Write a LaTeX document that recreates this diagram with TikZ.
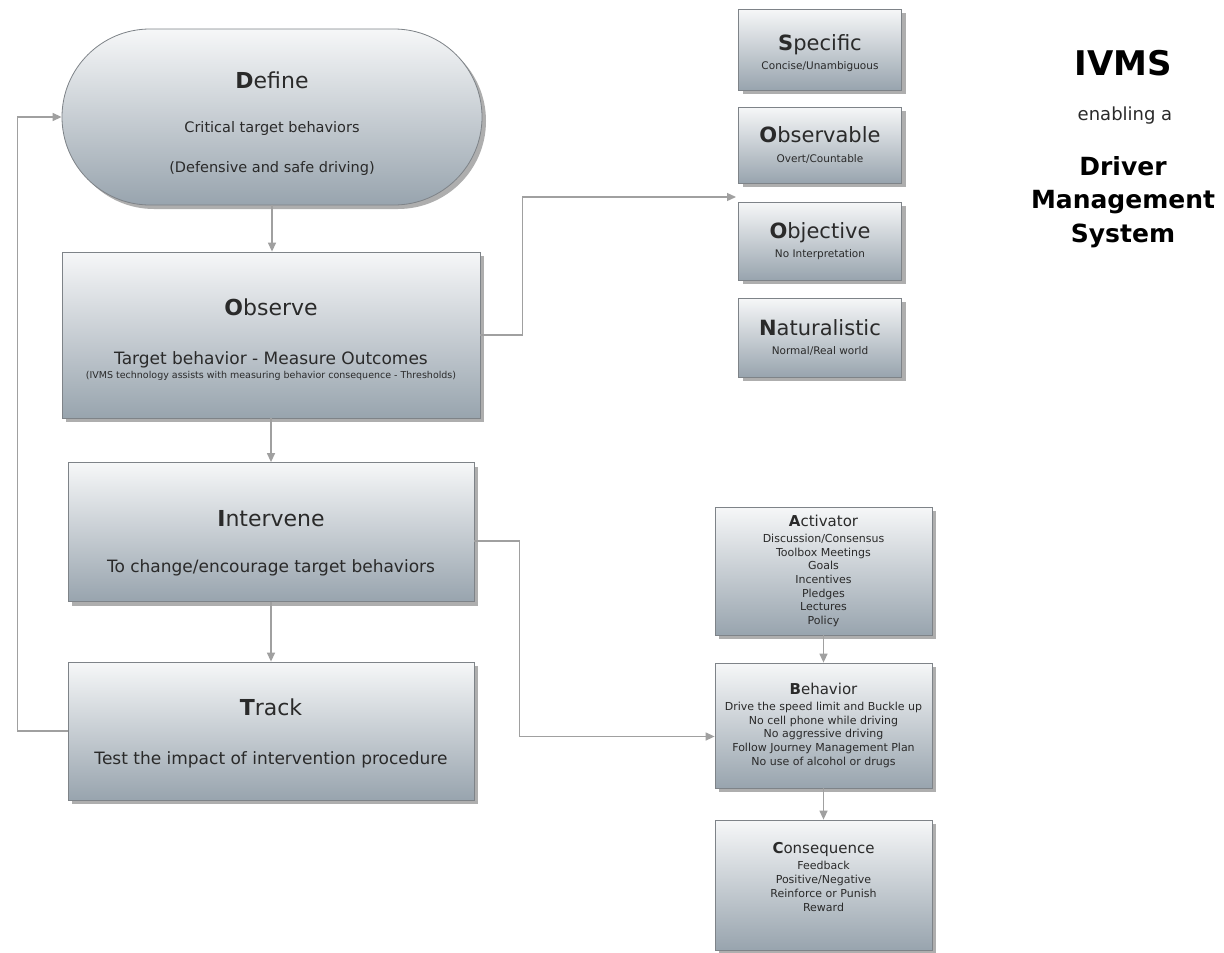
\documentclass[tikz,border=0pt]{standalone}
\usepackage{fontspec}
\setmainfont{DejaVu Sans}
\usetikzlibrary{shapes.misc,shadows,arrows.meta}
\definecolor{boxtop}{HTML}{F6F7F8}
\definecolor{boxbot}{HTML}{98A4AE}
\definecolor{edgegray}{HTML}{7E8388}
\definecolor{conn}{HTML}{A0A0A0}
\definecolor{txt}{HTML}{2A2A2A}
\newcommand{\fs}[2]{\fontsize{#1}{#2}\selectfont}
\tikzset{
  box/.style={draw=edgegray, line width=0.8pt, top color=boxtop, bottom color=boxbot,
    drop shadow={shadow xshift=4pt, shadow yshift=-4pt, opacity=0.45, fill=black!70},
    inner sep=0pt, align=center, text=txt},
  link/.style={draw=conn, line width=1.3pt, -{Triangle[length=9pt,width=8pt]}},
  headtxt/.style={align=center, text=black, inner sep=0pt},
}
\begin{document}
\begin{tikzpicture}[x=1pt,y=-1pt]
\useasboundingbox[fill=white] (0,0) rectangle (1224,953);

% main flow
\node[box, rounded rectangle, minimum width=420pt, minimum height=176pt,
      font=\fs{14.5}{40}] (define) at (272,117)
  {{\fs{22}{26}\rule{0pt}{30pt}\textbf{D}efine}\\[4pt]Critical target behaviors\\(Defensive and safe driving)};
\node[box, minimum width=418pt, minimum height=166pt, font=\fs{17}{14.5}] (observe) at (271,335)
  {{\fs{22}{26}\rule{0pt}{26pt}\textbf{O}bserve}\\[34.5pt]Target behavior - Measure Outcomes\\
   {\fs{9.5}{10}(IVMS technology assists with measuring behavior consequence - Thresholds)}};
\node[box, minimum width=406pt, minimum height=139pt, font=\fs{17}{46}] (intervene) at (271,532)
  {{\fs{22}{26}\rule{0pt}{38pt}\textbf{I}ntervene}\\To change/encourage target behaviors};
\node[box, minimum width=406pt, minimum height=138pt, font=\fs{17}{49}] (track) at (271,731)
  {{\fs{22}{26}\rule{0pt}{22pt}\textbf{T}rack}\\Test the impact of intervention procedure};

% criteria boxes
\node[box, minimum width=163pt, minimum height=81pt, font=\fs{10.5}{19}] (specific) at (820,49.5)
  {{\fs{21}{24}\rule{0pt}{24pt}\textbf{S}pecific}\\Concise/Unambiguous};
\node[box, minimum width=163pt, minimum height=76pt, font=\fs{10.5}{20}] (observable) at (820,145)
  {{\fs{21}{24}\textbf{O}bservable}\\Overt/Countable};
\node[box, minimum width=163pt, minimum height=78pt, font=\fs{10.5}{19}] (objective) at (820,241)
  {{\fs{21}{24}\textbf{O}bjective}\\No Interpretation};
\node[box, minimum width=163pt, minimum height=79pt, font=\fs{10.5}{19}] (naturalistic) at (820,337.5)
  {{\fs{21}{24}\textbf{N}aturalistic}\\Normal/Real world};

% ABC boxes
\node[box, minimum width=217pt, minimum height=128pt, font=\fs{11}{13.7}] (activator) at (823.5,571)
  {{\fs{15}{17}\textbf{A}ctivator}\\[2pt]Discussion/Consensus\\Toolbox Meetings\\Goals\\Incentives\\Pledges\\Lectures\\Policy};
\node[box, minimum width=217pt, minimum height=125pt, font=\fs{11}{13.8}] (behavior) at (823.5,725.5)
  {{\fs{15}{17}\textbf{B}ehavior}\\[2pt]Drive the speed limit and Buckle up\\No cell phone while driving\\No aggressive driving\\Follow Journey Management Plan\\No use of alcohol or drugs};
\node[box, minimum width=217pt, minimum height=130pt, font=\fs{11}{14}] (consequence) at (823.5,885)
  {{\fs{15}{17}\textbf{C}onsequence}\\[2pt]Feedback\\Positive/Negative\\Reinforce or Punish\\Reward\rule[-16pt]{0pt}{0pt}};

% title
\node[headtxt, font=\fs{34}{40}\bfseries] (ivms) at (1123,63) {IVMS};
\node[headtxt, font=\fs{18}{22}, text=txt] (enabling) at (1125,116) {enabling a};
\node[headtxt, font=\fs{25}{33.5}\bfseries] (dms) at (1123,202) {Driver\\Management\\System};

% connectors
\coordinate (crit) at (736,197);
\draw[link] (define.south) -- (define.south |- observe.north);
\draw[link] (observe.south) -- (observe.south |- intervene.north);
\draw[link] (intervene.south) -- (intervene.south |- track.north);
\draw[link] (track.west) -- ++(-50,0) |- (define.west);
\draw[link] (observe.east) -- ++(42,0) |- (crit);
\draw[link] ([yshift=-9pt]intervene.east) -- ++(45,0) |- ([yshift=-11pt]behavior.west);
\draw[link] (activator.south) -- (behavior.north);
\draw[link] (behavior.south) -- (consequence.north);
\end{tikzpicture}
\end{document}
